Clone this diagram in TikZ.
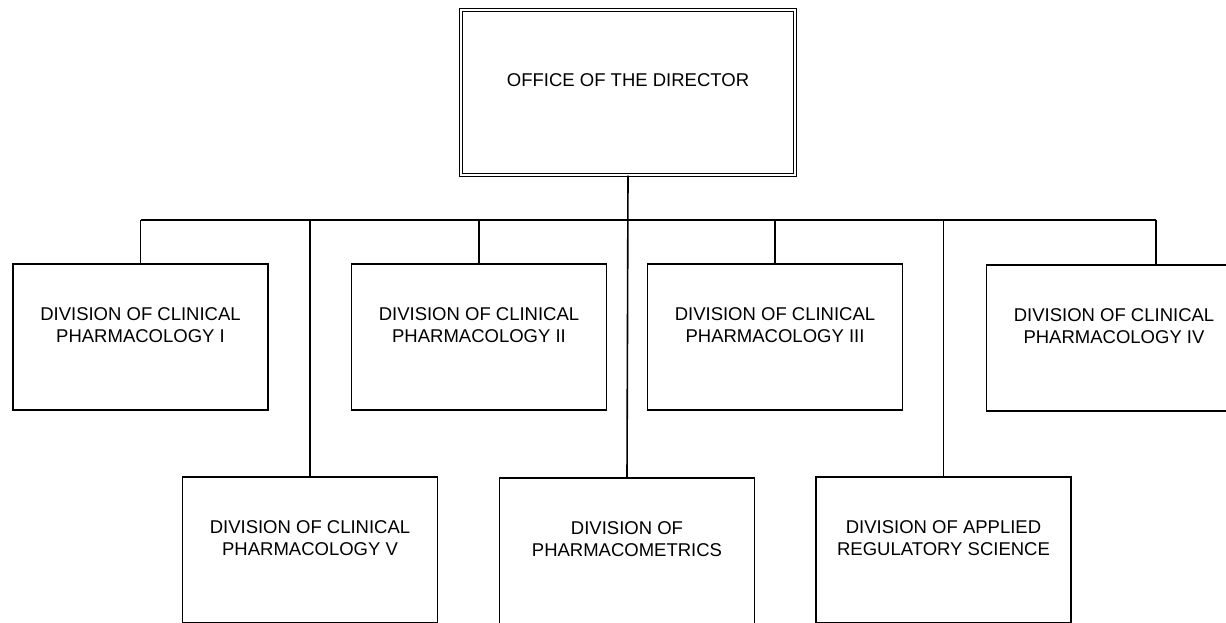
\documentclass[tikz,border=0pt]{standalone}
\usepackage{fontspec}
\setmainfont{Liberation Sans}
\tikzset{%
    dbox/.style={draw,line width=1.6pt,minimum width=255pt,minimum height=146pt,inner sep=0pt},
    obox/.style={draw,double,double distance=2pt,line width=1.4pt,minimum width=334pt,minimum height=165pt,inner sep=0pt},
    lbl/.style={align=center,yshift=12pt,font=\fontsize{18.5}{22}\selectfont},
    conn/.style={line width=1.6pt}
}
\begin{document}
\begin{tikzpicture}[x=1pt,y=-1pt]
            \useasboundingbox (0,0) rectangle (1226,622);
            \clip (0,0) rectangle (1226,622);
            \node[obox,label={[lbl]center:{OFFICE OF THE DIRECTOR}}] (dir) at (628,92.5){};

            \node[dbox,label={[lbl]center:{DIVISION OF CLINICAL\\PHARMACOLOGY I}}] (cp1) at (140.5,337){};
            \node[dbox,label={[lbl]center:{DIVISION OF CLINICAL\\PHARMACOLOGY II}}] (cp2) at (479,337){};
            \node[dbox,label={[lbl]center:{DIVISION OF CLINICAL\\PHARMACOLOGY III}}] (cp3) at (775,337){};
            \node[dbox,label={[lbl]center:{DIVISION OF CLINICAL\\PHARMACOLOGY IV}}] (cp4) at (1114,338){};
            \node[dbox,label={[lbl]center:{DIVISION OF CLINICAL\\PHARMACOLOGY V}}] (cp5) at (310,550){};
            \node[dbox,label={[lbl]center:{DIVISION OF\\PHARMACOMETRICS}}] (pm) at (627,551){};
            \node[dbox,label={[lbl]center:{DIVISION OF APPLIED\\REGULATORY SCIENCE}}] (ars) at (943.5,550){};

            % bus line
            \coordinate (bl) at (140.5,220);
            \coordinate (br) at (1156,220);
            \draw[conn] (bl) -- (br);
            \draw[conn] (dir.south) -- (pm.north);
            \draw[conn] (cp1.north) -- (cp1.north |- bl);
            \draw[conn] (cp2.north) -- (cp2.north |- bl);
            \draw[conn] (cp3.north) -- (cp3.north |- bl);
            \draw[conn] (br) -- (br |- cp4.north);
            \draw[conn] (cp5.north) -- (cp5.north |- bl);
            \draw[conn] (ars.north) -- (ars.north |- bl);
        \end{tikzpicture}
\end{document}
